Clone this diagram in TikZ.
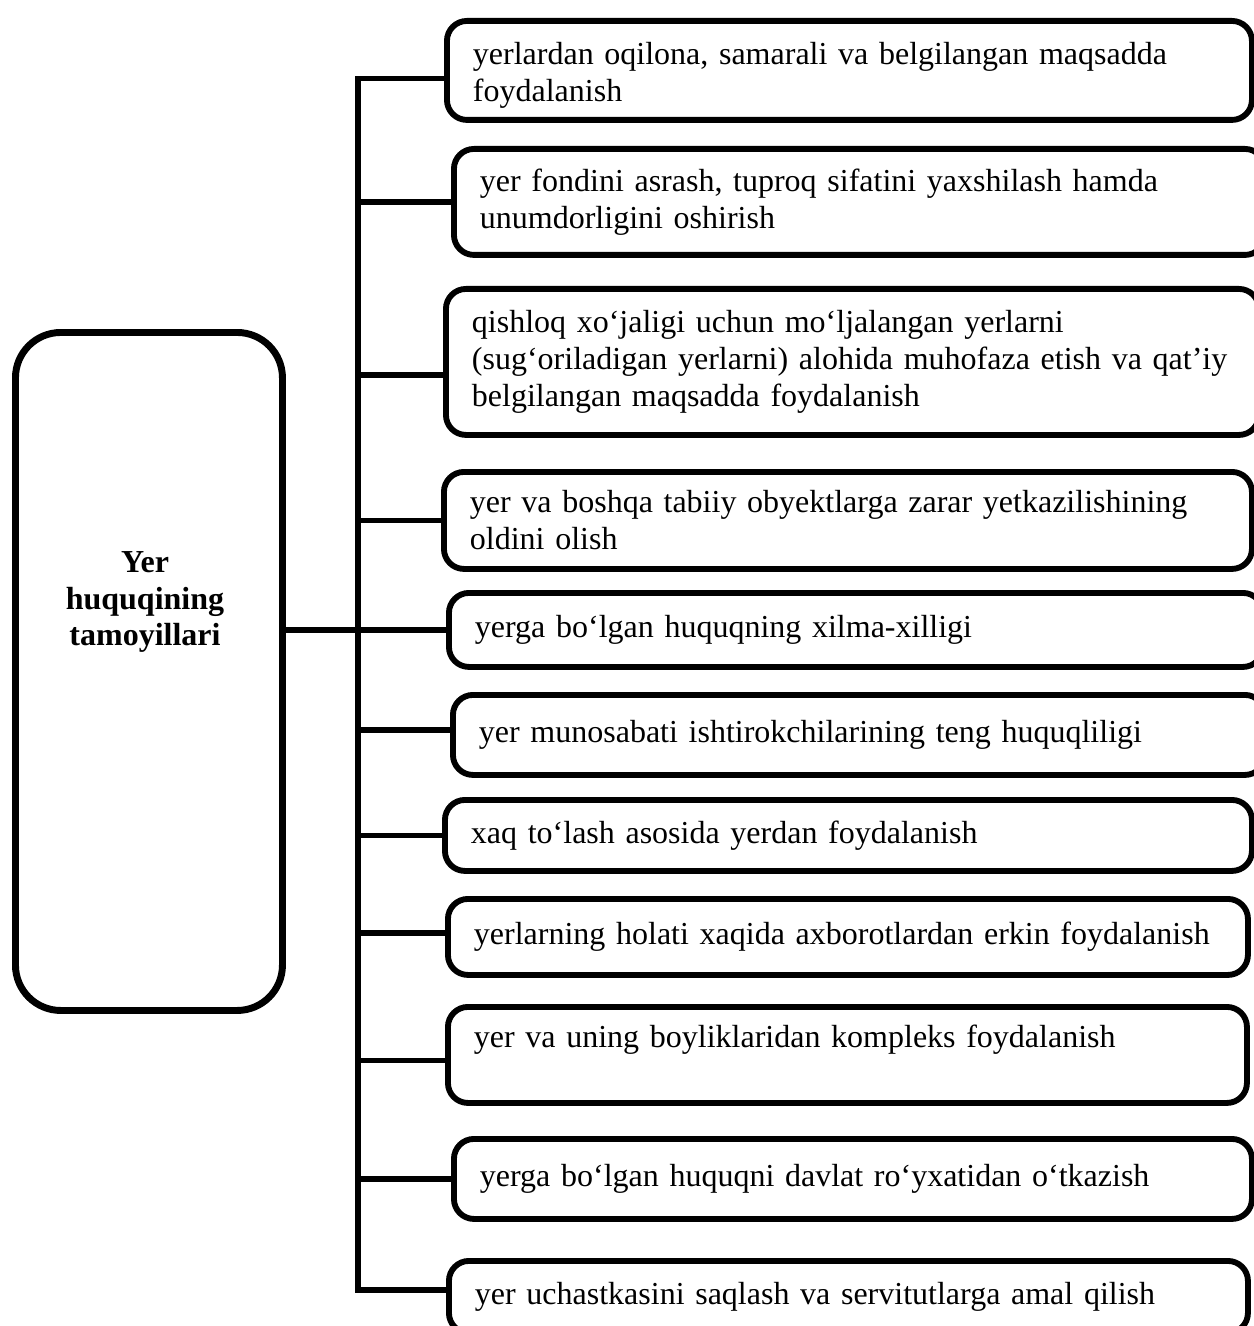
\documentclass[tikz,border=0pt]{standalone}
\usepackage{fontspec}
\setmainfont{Liberation Serif}
\begin{document}
\begin{tikzpicture}[x=0.375pt,y=-0.375pt,
  box/.style={draw, line width=2.2pt, rounded corners=7.5pt, anchor=north west,
    inner xsep=9.75pt, inner ysep=0pt, align=left,
    font=\fontsize{12pt}{13.8pt}\selectfont},
  conn/.style={line width=2pt},
  mainbox/.style={draw, line width=2.6pt, rounded corners=17pt, anchor=north west, inner sep=0pt},
  titletext/.style={font=\fontsize{12pt}{13.8pt}\selectfont\bfseries, align=center}
]
\path[use as bounding box] (0,0) rectangle (1254,1326);
\clip (0,0) rectangle (1254,1326);

\node[mainbox, minimum width=100.125pt, minimum height=254.25pt] (main) at (12,329) {};
\node[titletext] (maintitle) at (145,602) {Yer\\huquqining\\tamoyillari};

\node[box, minimum width=301.875pt, minimum height=37.125pt, text width=282.375pt] (b1) at (444,18)
  {\rule{0pt}{12pt}\mbox{yerlardan oqilona, samarali va belgilangan maqsadda}\\foydalanish};
\node[box, minimum width=304.125pt, minimum height=39.75pt, text width=284.625pt] (b2) at (451,146)
  {\mbox{yer fondini asrash, tuproq sifatini yaxshilash hamda}\\unumdorligini oshirish};
\node[box, minimum width=304.875pt, minimum height=54.75pt, text width=285.375pt] (b3) at (443,286)
  {\mbox{qishloq xo‘jaligi uchun mo‘ljalangan yerlarni}\\\mbox{(sug‘oriladigan yerlarni) alohida muhofaza etish va qat’iy}\\\mbox{belgilangan maqsadda foydalanish}};
\node[box, minimum width=303pt, minimum height=36.375pt, text width=283.5pt] (b4) at (441,469)
  {\mbox{yer va boshqa tabiiy obyektlarga zarar yetkazilishining}\\oldini olish};
\node[box, minimum width=305.25pt, minimum height=27.75pt, text width=285.75pt] (b5) at (446,590)
  {\mbox{yerga bo‘lgan huquqning xilma-xilligi}};
\node[box, minimum width=304.5pt, minimum height=30pt, text width=285pt] (b6) at (450,692)
  {\mbox{yer munosabati ishtirokchilarining teng huquqliligi}};
\node[box, minimum width=302.625pt, minimum height=26.625pt, text width=283.125pt] (b7) at (442,797)
  {\mbox{xaq to‘lash asosida yerdan foydalanish}};
\node[box, minimum width=300pt, minimum height=28.5pt, text width=280.5pt] (b8) at (445,896)
  {\mbox{yerlarning holati xaqida axborotlardan erkin foydalanish}};
\node[box, minimum width=299.625pt, minimum height=36pt, text width=280.125pt] (b9) at (445,1004)
  {\mbox{yer va uning boyliklaridan kompleks foydalanish}\\\mbox{}};
\node[box, minimum width=299.25pt, minimum height=30pt, text width=279.75pt] (b10) at (451,1136)
  {\mbox{yerga bo‘lgan huquqni davlat ro‘yxatidan o‘tkazish}};
\node[box, minimum width=299.625pt, minimum height=27pt, text width=280.125pt] (b11) at (446,1258)
  {\mbox{yer uchastkasini saqlash va servitutlarga amal qilish}};

\coordinate (spine) at (358,0);

\draw[conn] ([yshift=-3pt]b1.west) -- ([yshift=-3pt]b1.west -| spine)
  -- ([yshift=2.6pt]b11.west -| spine) -- ([yshift=2.6pt]b11.west);
\draw[conn] (main.east |- b5.west) -- (b5.west);
\draw[conn] (b2.west -| spine) -- (b2.west);
\draw[conn] ([yshift=-4.9pt]b3.west -| spine) -- ([yshift=-4.9pt]b3.west);
\draw[conn] (b4.west -| spine) -- (b4.west);
\draw[conn] ([yshift=1.9pt]b6.west -| spine) -- ([yshift=1.9pt]b6.west);
\draw[conn] (b7.west -| spine) -- (b7.west);
\draw[conn] ([yshift=1.5pt]b8.west -| spine) -- ([yshift=1.5pt]b8.west);
\draw[conn] ([yshift=-2pt]b9.west -| spine) -- ([yshift=-2pt]b9.west);
\draw[conn] (b10.west -| spine) -- (b10.west);
\end{tikzpicture}
\end{document}
